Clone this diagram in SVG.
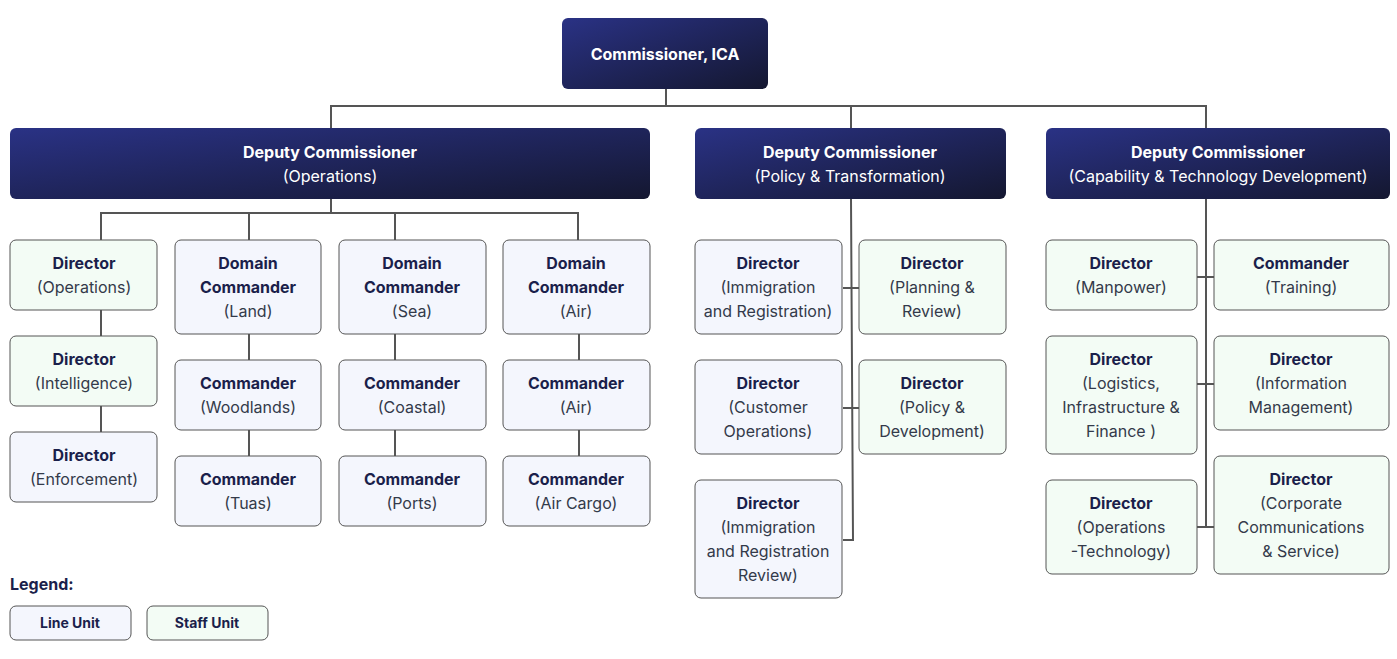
<svg xmlns="http://www.w3.org/2000/svg" width="1397" height="659" viewBox="0 0 1397 659">
<defs>
<linearGradient id="g" x1="0" y1="0" x2="1" y2="1" gradientUnits="objectBoundingBox"><stop offset="0" stop-color="#2a3285"/><stop offset="1" stop-color="#141730"/></linearGradient>
<style>
text{font-family:Inter,"Noto Sans","Liberation Sans",sans-serif;font-size:16px;text-anchor:middle}
.b{font-weight:700;fill:#1b1f4b}
.r{fill:#333a4a}
.w{fill:#fff}
.wb{fill:#fff;font-weight:700}
.dk{fill:url(#g)}
.ln{fill:#f4f6fd;stroke:#555;stroke-width:1}
.st{fill:#f3fcf5;stroke:#555;stroke-width:1}
#conn path{fill:none;stroke:#555;stroke-width:2}
</style>
</defs>
<rect width="1397" height="659" fill="#fff"/>
<g id="conn">
<path d="M666 89V106M331 128V106H1206V128M851 106V128"/>
<path d="M331 199V213M101 240V213H578V240M249 213V240M395 213V240"/>
<path d="M101 310V336M101 406V432M249 334V360M249 430V456M395 334V360M395 430V456M579 334V360M579 430V456"/>
<path d="M851 199L853 540H843M843 288H859M843 408H859"/>
<path d="M1206 199V527M1197 277H1214M1197 384H1214M1197 527H1214"/>
</g>
<g id="commissioner"><rect class="dk" x="562" y="18" width="206" height="71" rx="6"/><text class="wb" x="665" y="60">Commissioner, ICA</text></g>
<g id="dc-ops"><rect class="dk" x="10" y="128" width="640" height="71" rx="6"/><text class="wb" x="330" y="158">Deputy Commissioner</text><text class="w" x="330" y="182">(Operations)</text></g>
<g id="dc-policy"><rect class="dk" x="695" y="128" width="311" height="71" rx="6"/><text class="wb" x="850" y="158">Deputy Commissioner</text><text class="w" x="850" y="182">(Policy &amp; Transformation)</text></g>
<g id="dc-cap"><rect class="dk" x="1046" y="128" width="344" height="71" rx="6"/><text class="wb" x="1218" y="158">Deputy Commissioner</text><text class="w" x="1218" y="182">(Capability &amp; Technology Development)</text></g>

<g id="dir-ops"><rect class="st" x="10" y="240" width="147" height="70" rx="6"/><text class="b" x="84" y="269">Director</text><text class="r" x="84" y="293">(Operations)</text></g>
<g id="dir-int"><rect class="st" x="10" y="336" width="147" height="70" rx="6"/><text class="b" x="84" y="365">Director</text><text class="r" x="84" y="389">(Intelligence)</text></g>
<g id="dir-enf"><rect class="ln" x="10" y="432" width="147" height="70" rx="6"/><text class="b" x="84" y="461">Director</text><text class="r" x="84" y="485">(Enforcement)</text></g>

<g id="dom-land"><rect class="ln" x="175" y="240" width="146" height="94" rx="6"/><text class="b" x="248" y="269">Domain</text><text class="b" x="248" y="293">Commander</text><text class="r" x="248" y="317">(Land)</text></g>
<g id="cmd-wood"><rect class="ln" x="175" y="360" width="146" height="70" rx="6"/><text class="b" x="248" y="389">Commander</text><text class="r" x="248" y="413">(Woodlands)</text></g>
<g id="cmd-tuas"><rect class="ln" x="175" y="456" width="146" height="70" rx="6"/><text class="b" x="248" y="485">Commander</text><text class="r" x="248" y="509">(Tuas)</text></g>

<g id="dom-sea"><rect class="ln" x="339" y="240" width="147" height="94" rx="6"/><text class="b" x="412" y="269">Domain</text><text class="b" x="412" y="293">Commander</text><text class="r" x="412" y="317">(Sea)</text></g>
<g id="cmd-coast"><rect class="ln" x="339" y="360" width="147" height="70" rx="6"/><text class="b" x="412" y="389">Commander</text><text class="r" x="412" y="413">(Coastal)</text></g>
<g id="cmd-ports"><rect class="ln" x="339" y="456" width="147" height="70" rx="6"/><text class="b" x="412" y="485">Commander</text><text class="r" x="412" y="509">(Ports)</text></g>

<g id="dom-air"><rect class="ln" x="503" y="240" width="147" height="94" rx="6"/><text class="b" x="576" y="269">Domain</text><text class="b" x="576" y="293">Commander</text><text class="r" x="576" y="317">(Air)</text></g>
<g id="cmd-air"><rect class="ln" x="503" y="360" width="147" height="70" rx="6"/><text class="b" x="576" y="389">Commander</text><text class="r" x="576" y="413">(Air)</text></g>
<g id="cmd-cargo"><rect class="ln" x="503" y="456" width="147" height="70" rx="6"/><text class="b" x="576" y="485">Commander</text><text class="r" x="576" y="509">(Air Cargo)</text></g>

<g id="dir-ir"><rect class="ln" x="695" y="240" width="147" height="94" rx="6"/><text class="b" x="768" y="269">Director</text><text class="r" x="768" y="293">(Immigration</text><text class="r" x="768" y="317">and Registration)</text></g>
<g id="dir-cust"><rect class="ln" x="695" y="360" width="147" height="94" rx="6"/><text class="b" x="768" y="389">Director</text><text class="r" x="768" y="413">(Customer</text><text class="r" x="768" y="437">Operations)</text></g>
<g id="dir-irr"><rect class="ln" x="695" y="480" width="147" height="118" rx="6"/><text class="b" x="768" y="509">Director</text><text class="r" x="768" y="533">(Immigration</text><text class="r" x="768" y="557">and Registration</text><text class="r" x="768" y="581">Review)</text></g>
<g id="dir-plan"><rect class="st" x="859" y="240" width="147" height="94" rx="6"/><text class="b" x="932" y="269">Director</text><text class="r" x="932" y="293">(Planning &amp;</text><text class="r" x="932" y="317">Review)</text></g>
<g id="dir-pol"><rect class="st" x="859" y="360" width="147" height="94" rx="6"/><text class="b" x="932" y="389">Director</text><text class="r" x="932" y="413">(Policy &amp;</text><text class="r" x="932" y="437">Development)</text></g>

<g id="dir-man"><rect class="st" x="1046" y="240" width="151" height="70" rx="6"/><text class="b" x="1121" y="269">Director</text><text class="r" x="1121" y="293">(Manpower)</text></g>
<g id="dir-log"><rect class="st" x="1046" y="336" width="151" height="118" rx="6"/><text class="b" x="1121" y="365">Director</text><text class="r" x="1121" y="389">(Logistics,</text><text class="r" x="1121" y="413">Infrastructure &amp;</text><text class="r" x="1121" y="437">Finance )</text></g>
<g id="dir-opt"><rect class="st" x="1046" y="480" width="151" height="94" rx="6"/><text class="b" x="1121" y="509">Director</text><text class="r" x="1121" y="533">(Operations</text><text class="r" x="1121" y="557">-Technology)</text></g>
<g id="cmd-train"><rect class="st" x="1214" y="240" width="175" height="70" rx="6"/><text class="b" x="1301" y="269">Commander</text><text class="r" x="1301" y="293">(Training)</text></g>
<g id="dir-info"><rect class="st" x="1214" y="336" width="175" height="94" rx="6"/><text class="b" x="1301" y="365">Director</text><text class="r" x="1301" y="389">(Information</text><text class="r" x="1301" y="413">Management)</text></g>
<g id="dir-corp"><rect class="st" x="1214" y="456" width="175" height="118" rx="6"/><text class="b" x="1301" y="485">Director</text><text class="r" x="1301" y="509">(Corporate</text><text class="r" x="1301" y="533">Communications</text><text class="r" x="1301" y="557">&amp; Service)</text></g>

<g id="legend">
<text class="b" x="10" y="590" style="text-anchor:start">Legend:</text>
<rect class="ln" x="10" y="606" width="121" height="34" rx="6"/><text class="b" x="70" y="628" style="font-size:14px">Line Unit</text>
<rect class="st" x="147" y="606" width="121" height="34" rx="6"/><text class="b" x="207" y="628" style="font-size:14px">Staff Unit</text>
</g>
</svg>
